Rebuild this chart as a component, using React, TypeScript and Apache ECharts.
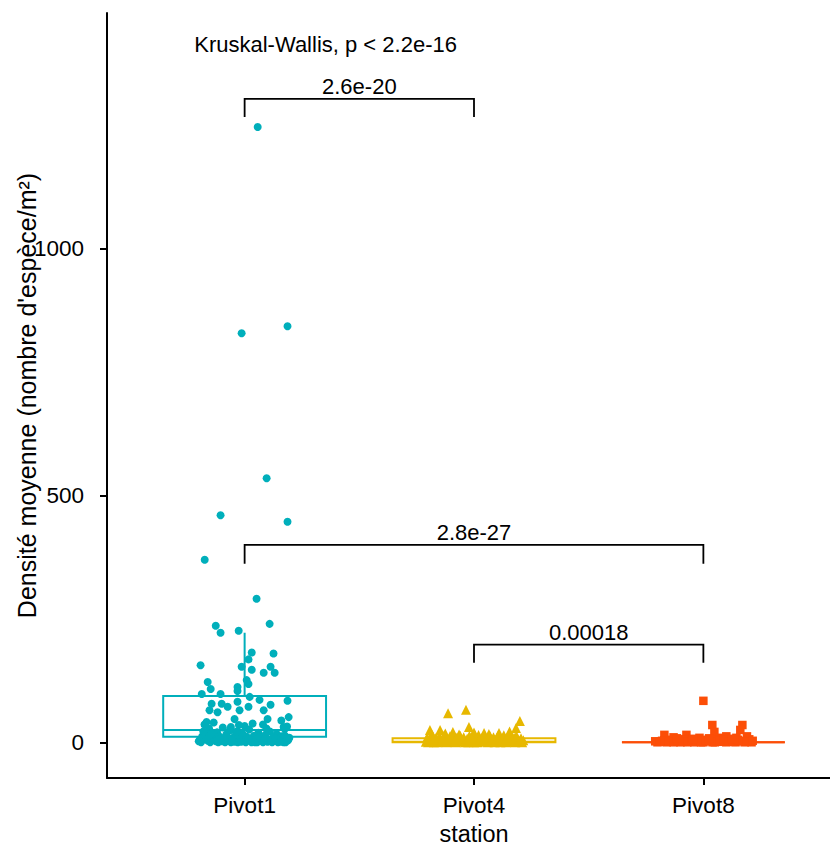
import React, { useEffect, useRef } from "react";
import * as echarts from "echarts";

const stations = ["Pivot1", "Pivot4", "Pivot8"];
const stationColors = ["#00AFBB", "#E7B800", "#FC4E07"];
const stationSymbols = ["circle", "triangle", "rect"];
const stationSymbolSizes = [8, 10, 8.5];
const yTicks = [0, 500, 1000];

// [lower whisker, Q1, median, Q3, upper whisker]
const pivot1Box = [0, 11, 25, 94, 222];
const pivot4Box = [0, 0, 1, 8, 20];
const pivot8Box = [0, 0, 0, 0, 0];

// jittered observations: [horizontal jitter (category units), density]
const pivot1Points = [
  [0.057, 1247], [-0.013, 829], [0.187, 843], [0.096, 535], [-0.105, 460], [0.187, 447],
  [-0.174, 370], [0.052, 291], [-0.126, 236], [-0.105, 222], [-0.026, 226], [0.109, 240],
  [-0.192, 156], [0.031, 182], [0.126, 180], [0.017, 168], [-0.013, 153], [0.031, 147],
  [0.083, 141], [0.113, 153], [0.131, 141], [-0.161, 122], [-0.148, 108], [-0.031, 112],
  [0.009, 126], [0.017, 118], [-0.031, 104], [-0.187, 98], [-0.105, 98], [0.022, 92],
  [0.187, 84], [-0.144, 78], [-0.1, 78], [-0.074, 72], [-0.031, 82], [-0.153, 65],
  [-0.118, 61], [-0.022, 65], [0.017, 72], [0.065, 86], [0.083, 65], [0.113, 76],
  [0.1, 47], [0.192, 51], [-0.166, 41], [-0.044, 47], [0.17, 31],
  [-0.2, 2], [-0.19, 0], [-0.18, 8], [-0.17, 15], [-0.16, 3], [-0.155, 28], [-0.15, 0],
  [-0.14, 10], [-0.13, 5], [-0.12, 20], [-0.115, 0], [-0.11, 12], [-0.1, 2], [-0.095, 30],
  [-0.09, 6], [-0.085, 0], [-0.08, 16], [-0.07, 4], [-0.065, 24], [-0.06, 0], [-0.05, 9],
  [-0.045, 1], [-0.04, 14], [-0.03, 0], [-0.025, 35], [-0.02, 6], [-0.01, 18], [0, 2],
  [0.005, 0], [0.01, 11], [0.02, 26], [0.025, 4], [0.03, 0], [0.04, 13], [0.05, 7],
  [0.055, 0], [0.06, 19], [0.07, 3], [0.075, 9], [0.08, 0], [0.09, 15], [0.1, 1],
  [0.105, 5], [0.11, 22], [0.12, 0], [0.125, 10], [0.13, 3], [0.14, 17], [0.145, 0],
  [0.15, 6], [0.16, 12], [0.165, 2], [0.17, 0], [0.175, 27], [0.18, 8], [0.185, 32],
  [0.19, 4], [0.179, 0], [-0.175, 36], [-0.135, 40], [0.035, 38], [0.16, 44],
  [-0.195, 5], [-0.185, 12], [-0.165, 6], [-0.145, 18], [-0.125, 2], [-0.105, 8],
  [-0.075, 10], [-0.055, 3], [-0.035, 22], [-0.015, 1], [0.015, 6], [0.045, 0],
  [0.065, 10], [0.085, 5], [0.095, 28], [0.115, 2], [0.135, 8], [0.155, 1],
  [0.175, 14], [0.195, 9], [-0.18, 22], [0.0, 33], [-0.06, 31], [0.08, 36],
];
const pivot4Points = [
  [-0.113, 59], [-0.035, 66], [-0.022, 31], [0.2, 43], [0.183, 29], [-0.192, 25],
  [-0.148, 25], [-0.092, 21], [0.044, 19], [0.109, 19],
  [-0.2, 0], [-0.19, 5], [-0.18, 12], [-0.17, 2], [-0.16, 0], [-0.155, 8], [-0.14, 3],
  [-0.13, 14], [-0.12, 0], [-0.11, 6], [-0.1, 1], [-0.09, 10], [-0.08, 0], [-0.07, 4],
  [-0.06, 13], [-0.05, 2], [-0.04, 0], [-0.03, 7], [-0.01, 11], [0, 0], [0.01, 3],
  [0.02, 15], [0.03, 1], [0.05, 8], [0.06, 0], [0.07, 12], [0.08, 4], [0.09, 0],
  [0.1, 9], [0.12, 2], [0.13, 14], [0.14, 0], [0.15, 6], [0.16, 11], [0.17, 1],
  [0.18, 0], [0.19, 7], [0.2, 3], [0.21, 0], [-0.185, 17], [-0.125, 18], [0.065, 17],
  [0.155, 22], [-0.065, 16], [0.0, 20], [-0.015, 5], [0.035, 9], [0.115, 0], [-0.165, 9],
  [-0.195, 3], [-0.185, 8], [-0.175, 0], [-0.165, 4], [-0.15, 11], [-0.145, 1],
  [-0.135, 7], [-0.115, 3], [-0.105, 12], [-0.095, 5], [-0.085, 2], [-0.075, 9],
  [-0.055, 6], [-0.045, 10], [-0.035, 3], [-0.025, 0], [-0.02, 13], [-0.005, 6],
  [0.005, 9], [0.015, 0], [0.025, 7], [0.04, 4], [0.045, 12], [0.055, 3],
  [0.075, 6], [0.085, 10], [0.095, 1], [0.105, 13], [0.11, 5], [0.125, 8],
  [0.135, 3], [0.145, 10], [0.165, 5], [0.175, 9], [0.185, 13], [0.195, 2],
  [0.205, 8], [0.215, 4], [-0.205, 9], [-0.21, 1],
];
const pivot8Points = [
  [0, 84], [0.039, 35], [0.17, 35], [0.048, 21], [0.161, 25], [0.07, 9], [0.144, 9],
  [-0.17, 15], [-0.074, 15], [-0.017, 9],
  [-0.2, 0], [-0.18, 3], [-0.16, 0], [-0.14, 5], [-0.12, 1], [-0.1, 0], [-0.08, 6],
  [-0.06, 2], [-0.04, 0], [-0.02, 4], [0, 0], [0.02, 3], [0.04, 0], [0.06, 5],
  [0.08, 1], [0.1, 0], [0.12, 4], [0.14, 0], [0.16, 2], [0.18, 0], [0.2, 6],
  [0.21, 0], [-0.13, 10], [0.1, 12], [0.19, 12],
  [-0.21, 2], [-0.19, 1], [-0.17, 4], [-0.15, 2], [-0.13, 0], [-0.11, 3], [-0.09, 1],
  [-0.07, 0], [-0.05, 4], [-0.03, 1], [-0.01, 0], [0.01, 5], [0.03, 2], [0.05, 0],
  [0.07, 3], [0.09, 6], [0.11, 2], [0.13, 1], [0.15, 5], [0.17, 3], [0.19, 1],
  [0.215, 3], [-0.115, 8], [-0.045, 7], [0.025, 8], [0.125, 7],
];

const kruskalLabel = "Kruskal-Wallis, p < 2.2e-16";
const kruskalPosition = [1.353, 1415];
// [from station index, to station index, bracket top, bracket tip, label]
const comparisons: [number, number, number, number, string][] = [
  [0, 1, 1304, 1267, "2.6e-20"],
  [0, 2, 400, 362, "2.8e-27"],
  [1, 2, 198, 161, "0.00018"],
];

const FONT = "'Liberation Sans', Arial, sans-serif";

export default function App() {
  const ref = useRef<HTMLDivElement>(null);
  useEffect(() => {
    if (!ref.current) return;
    const chart = echarts.init(ref.current, null, { renderer: "svg" });
    const boxes = [pivot1Box, pivot4Box, pivot8Box];
    const pointSets = [pivot1Points, pivot4Points, pivot8Points];
    const halfWidth = 0.355;

    const boxSeries: any = {
      type: "custom",
      z: 2,
      silent: true,
      data: boxes.map((b, i) => [i + 1, ...b]),
      encode: { x: 0, y: [1, 2, 3, 4, 5] },
      renderItem: (params: any, api: any) => {
        const x = api.value(0);
        const lo = api.value(1), q1 = api.value(2), med = api.value(3), q3 = api.value(4), hi = api.value(5);
        const color = stationColors[params.dataIndex];
        const tl = api.coord([x - halfWidth, q3]);
        const br = api.coord([x + halfWidth, q1]);
        const mL = api.coord([x - halfWidth, med]);
        const mR = api.coord([x + halfWidth, med]);
        const top = api.coord([x, hi]);
        const q3c = api.coord([x, q3]);
        const q1c = api.coord([x, q1]);
        const bot = api.coord([x, lo]);
        const style = { stroke: color, lineWidth: 2, fill: "none" };
        return {
          type: "group",
          children: [
            { type: "line", shape: { x1: q3c[0], y1: q3c[1], x2: top[0], y2: top[1] }, style },
            { type: "line", shape: { x1: q1c[0], y1: q1c[1], x2: bot[0], y2: bot[1] }, style },
            {
              type: "rect",
              shape: { x: tl[0], y: tl[1], width: br[0] - tl[0], height: br[1] - tl[1] },
              style: { ...style, fill: "#ffffff" },
            },
            { type: "line", shape: { x1: mL[0], y1: mL[1], x2: mR[0], y2: mR[1] }, style },
          ],
        };
      },
    };

    const scatterSeries = pointSets.map((pts, i) => ({
      type: "scatter",
      name: stations[i],
      z: 3,
      silent: true,
      symbol: stationSymbols[i],
      symbolSize: stationSymbolSizes[i],
      itemStyle: { color: stationColors[i], opacity: 1 },
      data: pts.map(([dx, v]) => [i + 1 + dx, v]),
    }));

    const bracketSeries: any = {
      type: "custom",
      z: 4,
      silent: true,
      data: comparisons.map((c) => [c[0] + 1, c[1] + 1, c[2], c[3]]),
      encode: { x: [0, 1], y: [2, 3] },
      renderItem: (params: any, api: any) => {
        const x1 = api.value(0), x2 = api.value(1), yTop = api.value(2), yTip = api.value(3);
        const a = api.coord([x1, yTip]);
        const b = api.coord([x1, yTop]);
        const c = api.coord([x2, yTop]);
        const d = api.coord([x2, yTip]);
        return {
          type: "group",
          children: [
            {
              type: "polyline",
              shape: { points: [a, b, c, d] },
              style: { stroke: "#000", lineWidth: 1.8, fill: "none" },
            },
            {
              type: "text",
              x: (b[0] + c[0]) / 2,
              y: b[1] - 1,
              style: {
                text: comparisons[params.dataIndex][4],
                fontSize: 22,
                fontFamily: FONT,
                fill: "#000",
                align: "center",
                verticalAlign: "bottom",
              },
            },
          ],
        };
      },
    };

    const kruskalSeries: any = {
      type: "custom",
      z: 4,
      silent: true,
      data: [kruskalPosition],
      renderItem: (params: any, api: any) => {
        const p = api.coord([api.value(0), api.value(1)]);
        return {
          type: "text",
          x: p[0],
          y: p[1],
          style: {
            text: kruskalLabel,
            fontSize: 22,
            fontFamily: FONT,
            fill: "#000",
            align: "center",
            verticalAlign: "middle",
          },
        };
      },
    };

    chart.setOption({
      animation: false,
      backgroundColor: "#ffffff",
      grid: {
        left: 107,
        top: 13,
        width: 734,
        height: 765,
        containLabel: false,
        outerBoundsMode: "none",
      },
      xAxis: {
        type: "value",
        min: 0.4,
        max: 3.6,
        name: "station",
        nameLocation: "middle",
        nameGap: 44,
        nameMoveOverlap: false,
        nameTextStyle: { fontSize: 23.5, fontFamily: FONT, color: "#000" },
        axisLine: { show: true, onZero: false, lineStyle: { color: "#000", width: 2 } },
        axisTick: { show: true, length: 7, lineStyle: { color: "#000", width: 2 }, customValues: [1, 2, 3] },
        axisLabel: {
          customValues: [1, 2, 3],
          formatter: (v: number) => stations[Math.round(v) - 1] ?? "",
          fontSize: 22.5,
          fontFamily: FONT,
          color: "#000",
          margin: 16,
        },
        splitLine: { show: false },
      },
      yAxis: {
        type: "value",
        min: -72.4,
        max: 1478,
        name: "Densité moyenne (nombre d'espèce/m²)",
        nameLocation: "middle",
        nameGap: 68,
        nameMoveOverlap: false,
        nameTextStyle: { fontSize: 25, fontFamily: FONT, color: "#000" },
        axisLine: { show: true, onZero: false, lineStyle: { color: "#000", width: 2 } },
        axisTick: { show: true, length: 7, lineStyle: { color: "#000", width: 2 }, customValues: yTicks },
        axisLabel: {
          customValues: yTicks,
          formatter: (v: number) => String(v),
          fontSize: 22.5,
          fontFamily: FONT,
          color: "#000",
          margin: 23,
        },
        splitLine: { show: false },
      },
      series: [boxSeries, ...scatterSeries, bracketSeries, kruskalSeries],
    });
    return () => chart.dispose();
  }, []);
  return (
    <div
      ref={ref}
      style={{ position: "fixed", left: 0, top: 0, width: 830, height: 848, background: "#fff" }}
    />
  );
}
